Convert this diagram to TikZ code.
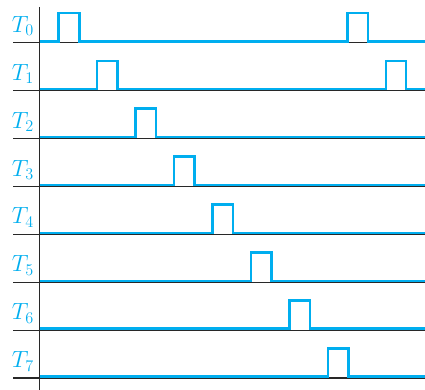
\documentclass[tikz,border=0pt]{standalone}
\usepackage{graphicx}
\definecolor{sigblue}{RGB}{0,174,239}
\definecolor{axisgray}{RGB}{40,40,40}
\newcommand{\biglbl}[1]{\scalebox{1.13}{\fontsize{20.74}{24}\selectfont$T_{#1}$}}
\begin{document}
\begin{tikzpicture}[x=1pt,y=-1pt,
  baseline/.style={draw=axisgray,line width=1.1pt},
  signal/.style={draw=sigblue,line width=2.6pt,line join=miter},
  lbl/.style={text=sigblue,anchor=base east,inner sep=0pt}]
\useasboundingbox (0,0) rectangle (425,390);
\def\step{38.47}
\def\w{20.5}
\foreach \k in {0,...,7}{
  \pgfmathsetmacro{\b}{42.7+47.9*\k}
  \pgfmathsetmacro{\s}{\b-1.4}
  \pgfmathsetmacro{\h}{\s-28.3}
  \pgfmathsetmacro{\xa}{58.7+\step*\k}
  \pgfmathsetmacro{\xb}{\xa+\w}
  \draw[baseline] (13,\b) -- (425,\b);
  \node[lbl] (T\k) at (34,\b-10.4) {\biglbl{\k}};
  \ifnum\k=0
    \draw[signal] (40,\s) -- (\xa,\s) -- (\xa,\h) -- (\xb,\h) -- (\xb,\s) -- (347.7,\s) -- (347.7,\h) -- (368,\h) -- (368,\s) -- (425,\s);
  \else\ifnum\k=1
    \draw[signal] (40,\s) -- (\xa,\s) -- (\xa,\h) -- (\xb,\h) -- (\xb,\s) -- (386,\s) -- (386,\h) -- (406,\h) -- (406,\s) -- (425,\s);
  \else
    \draw[signal] (40,\s) -- (\xa,\s) -- (\xa,\h) -- (\xb,\h) -- (\xb,\s) -- (425,\s);
  \fi\fi
}
\draw[baseline] (39.7,7) -- (39.7,390);
\end{tikzpicture}
\end{document}
